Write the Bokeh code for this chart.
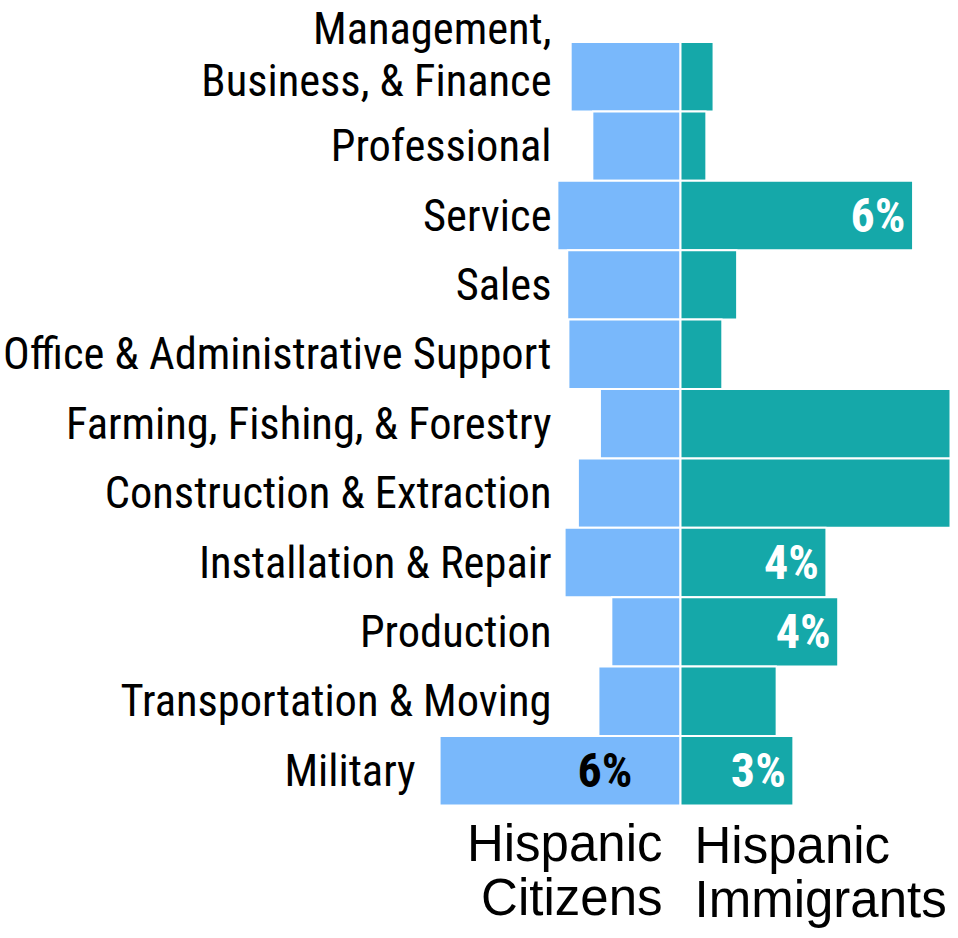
from bokeh.plotting import figure
from bokeh.models import ColumnDataSource, Range1d
from bokeh.core.properties import value
from bokeh.embed import file_html
from bokeh.resources import INLINE

# ---------------- data ----------------
categories = [
    "Management,\nBusiness, & Finance",
    "Professional",
    "Service",
    "Sales",
    "Office & Administrative Support",
    "Farming, Fishing, & Forestry",
    "Construction & Extraction",
    "Installation & Repair",
    "Production",
    "Transportation & Moving",
    "Military",
]
citizens = [2.89, 2.32, 3.24, 2.98, 2.95, 2.12, 2.70, 3.05, 1.82, 2.16, 6.34]
immigrants = [0.87, 0.68, 6.12, 1.49, 1.10, 9.5, 8.8, 3.84, 4.15, 2.53, 2.97]
citizen_labels = ["", "", "", "", "", "", "", "", "", "", "6%"]
immigrant_labels = ["", "", "6%", "", "", "", "", "4%", "4%", "", "3%"]
series_left = ["Hispanic", "Citizens"]
series_right = ["Hispanic", "Immigrants"]

# ---------------- styling ----------------
BLUE = "#79b8fb"
TEAL = "#15a8a9"
NARROW = "Roboto Condensed"
REGULAR = "Liberation Sans"

W, H = 950, 930
PX_X = 38.0          # pixels per percentage point
ROW = 69.4           # pixels per row
CENTER_PX = 680.0    # canvas x of the zero line
TOP_PX = 41.5        # canvas y of the top of the first row
LABEL_EDGE = -3.395  # right edge of the category label column (data units)

x0 = -CENTER_PX / PX_X
x1 = (W - CENTER_PX) / PX_X
y1 = 0.5 + TOP_PX / ROW
y0 = y1 - H / ROW

n = len(categories)
ys = [-i for i in range(n)]

src = ColumnDataSource(dict(
    y=ys,
    cat=categories,
    cit=citizens,
    neg=[-v for v in citizens],
    imm=immigrants,
    cl=citizen_labels,
    il=immigrant_labels,
    cat_x=[LABEL_EDGE if -v > LABEL_EDGE else -v - 0.63 for v in citizens],
    cat_dy=[-(c.count("\n")) * 22 for c in categories],
    cl_x=[-v * 0.2 for v in citizens],
    il_x=[v - 0.2 for v in immigrants],
))

p = figure(width=W, height=H, x_range=Range1d(x0, x1), y_range=Range1d(y0, y1),
           output_backend="svg", toolbar_location=None, min_border=0,
           x_axis_location=None, y_axis_location=None)
p.grid.visible = False
p.outline_line_color = None
p.background_fill_color = "white"
p.border_fill_color = "white"

p.hbar(y="y", left="neg", right=0, height=1, source=src,
       fill_color=BLUE, line_color="white", line_width=2)
p.hbar(y="y", left=0, right="imm", height=1, source=src,
       fill_color=TEAL, line_color="white", line_width=2)

# category labels
p.text(x="cat_x", y="y", text="cat", source=src, y_offset="cat_dy",
       text_align="right", text_baseline="middle",
       text_font=value(NARROW), text_font_size="44.5px", text_color="black",
       text_line_height=1.0)

# value labels
p.text(x="cl_x", y="y", text="cl", source=src,
       text_align="right", text_baseline="middle",
       text_font=value(NARROW), text_font_style="bold",
       text_font_size="48px", text_color="black")
p.text(x="il_x", y="y", text="il", source=src,
       text_align="right", text_baseline="middle",
       text_font=value(NARROW), text_font_style="bold",
       text_font_size="48px", text_color="white")

# series labels under the bars
bottom = -(n - 1) - 0.5
first_gap = 38.0 / ROW
line_gap = 54.0 / ROW
left_src = ColumnDataSource(dict(
    x=[0.0] * len(series_left),
    y=[bottom - first_gap - k * line_gap for k in range(len(series_left))],
    t=series_left))
right_src = ColumnDataSource(dict(
    x=[0.0] * len(series_right),
    y=[bottom - first_gap - 2.0 / ROW - k * line_gap for k in range(len(series_right))],
    t=series_right))
p.text(x="x", y="y", text="t", source=left_src, x_offset=-18,
       text_align="right", text_baseline="alphabetic",
       text_font=value(REGULAR), text_font_size="51px", text_color="black")
p.text(x="x", y="y", text="t", source=right_src, x_offset=14,
       text_align="left", text_baseline="alphabetic",
       text_font=value(REGULAR), text_font_size="51px", text_color="black")

open("out.html", "w").write(file_html(p, INLINE))
